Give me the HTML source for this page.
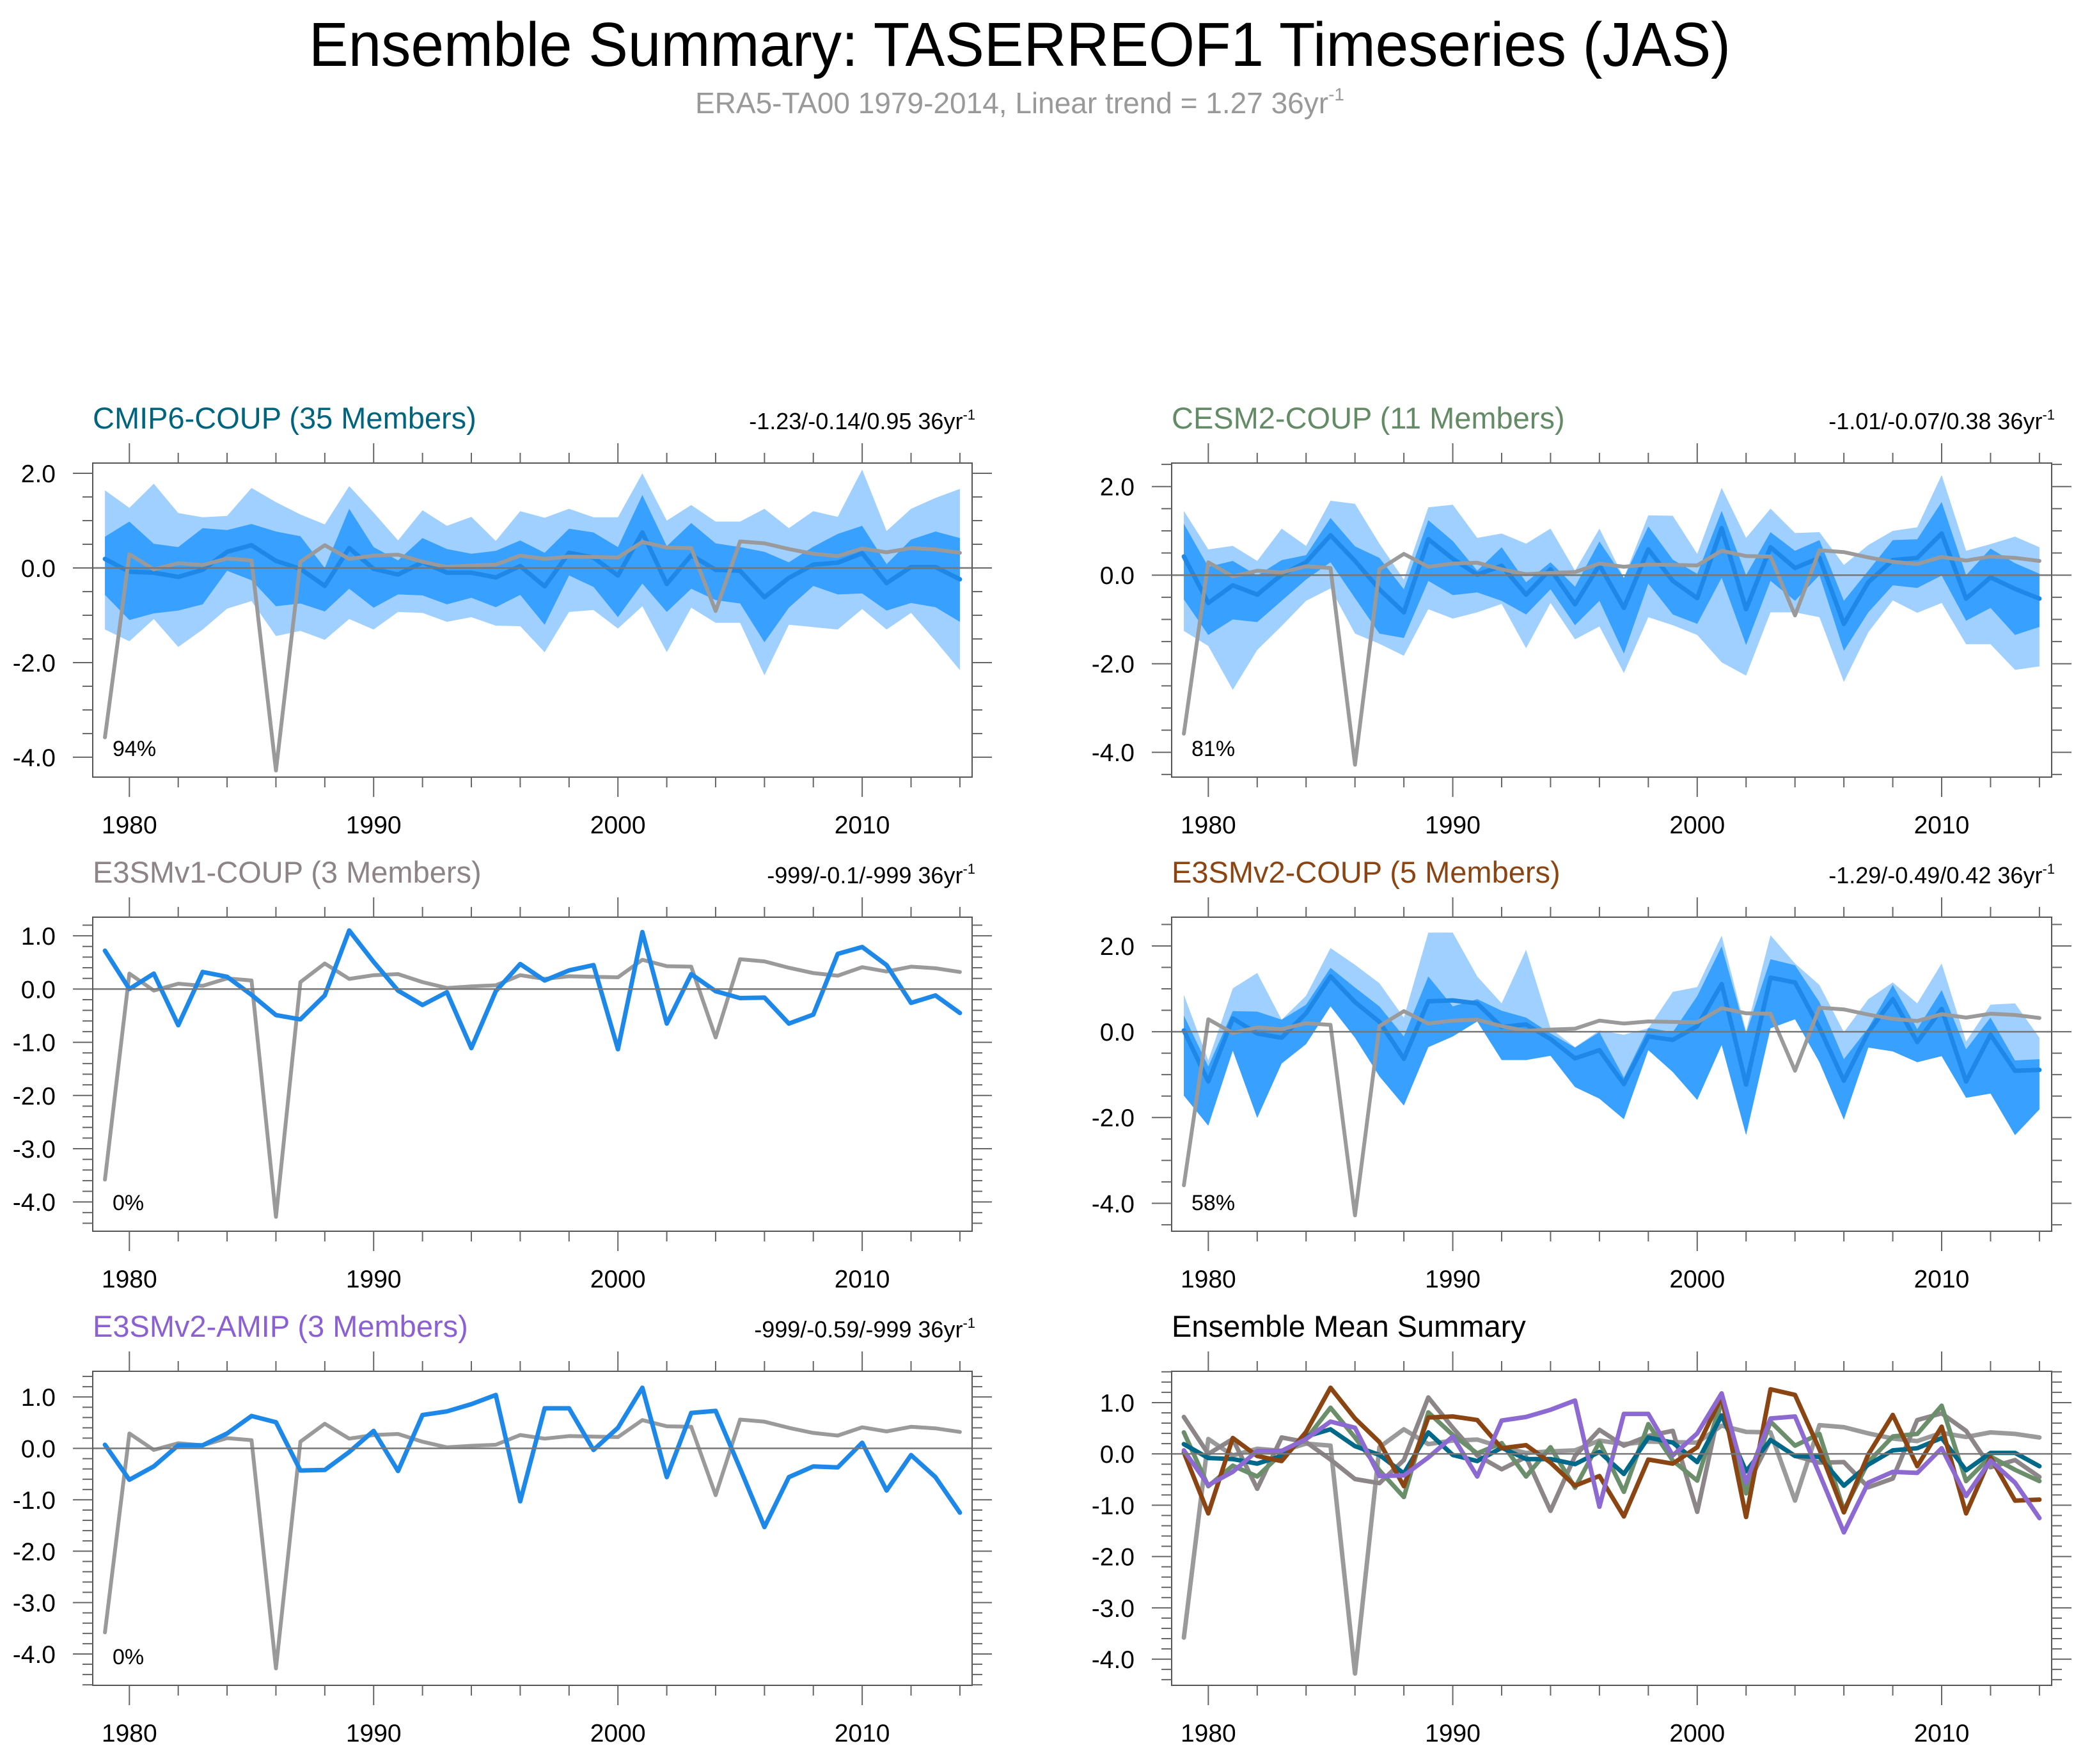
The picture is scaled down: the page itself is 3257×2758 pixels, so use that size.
<!DOCTYPE html>
<html><head><meta charset="utf-8">
<style>
html,body{margin:0;padding:0;background:#fff;}
svg{display:block;font-family:"Liberation Sans",Arial,sans-serif;}
</style></head>
<body>
<svg id="chart" xmlns="http://www.w3.org/2000/svg" width="3257" height="2758" viewBox="0 0 3257 2758">
<rect x="0" y="0" width="3257" height="2758" fill="#fff"/>
<text x="483" y="103" font-size="97" textLength="2223" lengthAdjust="spacingAndGlyphs" fill="#000">Ensemble Summary: TASERREOF1 Timeseries (JAS)</text>
<text x="1087" y="177" font-size="46" fill="#999">ERA5-TA00 1979-2014, Linear trend = 1.27 36yr<tspan font-size="28" dy="-20">-1</tspan></text>
<g id="panels"></g>
</svg>
<script>
const years = [1979,1980,1981,1982,1983,1984,1985,1986,1987,1988,1989,1990,1991,1992,1993,1994,1995,1996,1997,1998,1999,2000,2001,2002,2003,2004,2005,2006,2007,2008,2009,2010,2011,2012,2013,2014];
const era5 = [-3.58,0.29,-0.03,0.1,0.06,0.2,0.16,-4.28,0.13,0.48,0.19,0.26,0.28,0.13,0.02,0.05,0.07,0.26,0.19,0.24,0.23,0.22,0.55,0.43,0.42,-0.91,0.56,0.52,0.4,0.3,0.25,0.41,0.33,0.42,0.39,0.32];

const cmip6Mean = [0.19,-0.08,-0.1,-0.19,-0.04,0.34,0.48,0.15,-0.02,-0.38,0.42,-0.02,-0.14,0.12,-0.1,-0.1,-0.2,0.04,-0.39,0.32,0.22,-0.16,0.75,-0.34,0.27,-0.04,-0.06,-0.62,-0.21,0.07,0.11,0.31,-0.32,0.02,0.02,-0.24];
const cmip6DarkHi = [0.66,0.98,0.51,0.44,0.84,0.8,0.93,0.77,0.67,0.0,1.25,0.44,0.16,0.63,0.4,0.3,0.36,0.58,0.32,0.83,0.75,0.44,1.54,0.46,0.95,0.52,0.44,0.34,0.12,0.45,0.72,0.89,0.08,0.6,0.77,0.63];
const cmip6DarkLo = [-0.57,-1.1,-0.96,-0.9,-0.77,-0.06,-0.26,-0.81,-0.75,-0.92,-0.44,-0.84,-0.56,-0.58,-0.77,-0.63,-0.83,-0.57,-1.2,-0.16,-0.4,-1.04,-0.33,-0.93,-0.44,-0.68,-0.75,-1.57,-0.84,-0.38,-0.56,-0.54,-0.9,-0.74,-0.83,-1.14];
const cmip6LightHi = [1.64,1.27,1.78,1.16,1.07,1.1,1.69,1.39,1.13,0.92,1.73,1.17,0.58,1.22,0.89,1.08,0.57,1.2,1.06,1.25,1.07,1.07,2.0,1.0,1.33,0.98,0.98,1.25,0.84,1.2,1.08,2.08,0.78,1.25,1.48,1.67];
const cmip6LightLo = [-1.3,-1.55,-1.08,-1.67,-1.3,-0.86,-0.7,-1.44,-1.33,-1.52,-1.08,-1.3,-0.93,-0.95,-1.14,-1.04,-1.22,-1.23,-1.78,-0.93,-0.89,-1.28,-0.81,-1.78,-0.84,-1.16,-1.16,-2.27,-1.2,-1.25,-1.3,-0.87,-1.3,-0.95,-1.54,-2.16];

const cesm2Mean = [0.42,-0.63,-0.23,-0.44,0.01,0.29,0.9,0.32,-0.32,-0.84,0.81,0.37,0.01,0.21,-0.44,0.13,-0.66,0.23,-0.74,0.58,-0.13,-0.52,1.06,-0.77,0.63,0.16,0.39,-1.1,-0.16,0.34,0.39,0.94,-0.53,-0.05,-0.31,-0.53];
const cesm2DarkHi = [1.16,0.19,0.32,-0.01,0.34,0.45,1.29,0.65,0.39,-0.32,1.24,0.77,0.1,0.63,-0.16,0.29,-0.26,0.76,-0.06,1.1,0.35,0.03,1.45,0.0,0.97,0.55,0.79,-0.58,0.1,0.79,0.81,1.65,0.0,0.6,0.27,0.03];
const cesm2DarkLo = [-0.55,-1.35,-1.0,-1.06,-0.58,-0.1,0.29,-0.52,-1.32,-1.42,-0.13,-0.45,-0.39,-0.58,-0.89,-0.32,-1.13,-0.58,-1.77,-0.19,-0.89,-1.1,-0.06,-1.58,-0.13,-0.58,0.0,-1.71,-0.84,-0.23,-0.29,-0.01,-1.03,-0.74,-1.35,-1.17];
const cesm2LightHi = [1.45,0.58,0.66,0.32,1.05,0.66,1.68,1.61,0.71,-0.1,1.53,1.59,0.84,0.94,0.71,1.05,0.1,1.05,-0.06,1.35,1.34,0.48,1.97,0.84,1.5,0.95,0.97,0.23,0.68,1.0,1.08,2.26,0.55,0.7,0.87,0.63];
const cesm2LightLo = [-1.26,-1.6,-2.59,-1.69,-1.15,-0.58,-0.3,-1.32,-1.55,-1.82,-0.77,-0.98,-0.84,-0.65,-1.65,-0.63,-1.45,-1.16,-2.21,-0.95,-1.13,-1.35,-1.97,-2.27,-0.84,-0.84,-0.95,-2.41,-1.29,-0.57,-0.85,-0.63,-1.56,-1.56,-2.14,-2.06];

const e3v1Mean = [0.72,0.0,0.29,-0.68,0.32,0.23,-0.11,-0.49,-0.57,-0.12,1.1,0.51,-0.03,-0.3,-0.06,-1.11,-0.04,0.47,0.16,0.35,0.45,-1.13,1.07,-0.65,0.28,-0.04,-0.17,-0.16,-0.65,-0.48,0.66,0.79,0.45,-0.26,-0.12,-0.45];

const e3v2Mean = [0.03,-1.16,0.31,-0.04,-0.14,0.43,1.29,0.69,0.23,-0.63,0.71,0.73,0.66,0.11,0.17,-0.17,-0.62,-0.43,-1.22,-0.11,-0.19,0.13,1.11,-1.23,1.26,1.15,0.09,-1.14,-0.01,0.76,-0.24,0.53,-1.16,-0.07,-0.91,-0.89];
const e3v2DarkHi = [0.38,-0.81,0.48,0.47,0.28,0.63,1.49,1.03,0.59,-0.11,1.29,0.59,0.76,0.49,0.33,-0.04,-0.37,-0.01,-1.07,0.09,-0.01,0.83,1.99,-0.04,1.69,1.55,0.69,-0.64,0.09,1.09,0.06,0.97,-0.41,0.33,-0.67,-0.64];
const e3v2DarkLo = [-1.49,-2.19,-0.44,-2.01,-0.74,-0.29,0.59,-0.14,-1.04,-1.72,-0.36,-0.11,0.24,-0.66,-0.66,-0.56,-1.29,-1.56,-2.04,-0.43,-0.94,-1.59,-0.31,-2.41,0.08,0.29,-0.71,-2.05,-0.37,-0.46,-0.71,-0.57,-1.54,-1.44,-2.41,-1.81];
const e3v2LightHi = [0.86,-0.67,1.01,1.37,0.28,0.84,1.95,1.56,1.13,0.33,2.31,2.31,1.29,0.66,1.91,0.08,-0.36,0.03,-0.07,0.08,0.93,1.04,2.24,0.01,2.25,1.59,1.09,-0.01,0.76,1.15,0.66,1.59,-0.23,0.63,0.66,-0.14];
const e3v2LightLo = [-1.49,-2.19,-0.44,-2.01,-0.74,-0.29,0.59,-0.14,-1.04,-1.72,-0.36,-0.11,0.24,-0.66,-0.66,-0.56,-1.29,-1.56,-2.04,-0.43,-0.94,-1.59,-0.31,-2.41,0.08,0.29,-0.71,-2.05,-0.37,-0.46,-0.71,-0.57,-1.54,-1.44,-2.41,-1.81];

const amipMean = [0.07,-0.61,-0.35,0.06,0.06,0.29,0.63,0.51,-0.43,-0.42,-0.07,0.34,-0.44,0.65,0.72,0.86,1.04,-1.03,0.78,0.78,-0.03,0.4,1.18,-0.56,0.69,0.73,-0.39,-1.53,-0.56,-0.35,-0.37,0.11,-0.82,-0.13,-0.56,-1.25];

const xTickLabels = ["1980","1990","2000","2010"];
const xTickYears = [1980,1990,2000,2010];

const NS = "http://www.w3.org/2000/svg";
const root = document.getElementById('panels');
function mk(tag, attrs, parent) {
  const e = document.createElementNS(NS, tag);
  for (const k in attrs) e.setAttribute(k, attrs[k]);
  (parent || root).appendChild(e);
  return e;
}
const BLUE_LINE = "#1e88e8", DARK = "#38a0ff", LIGHT = "#a0d0ff", GRAY = "#9a9a9a";

function panel(cfg) {
  const g = mk('g', {});
  
  
  const L = cfg.x, T = cfg.y, W = cfg.w, H = 491;
  const xs = yr => L + (yr - 1978.5) / 36 * W;
  const ys = v => T + (cfg.ymax - v) / (cfg.ymax - cfg.ymin) * H;
  const clipId = 'clip-' + cfg.name;
  const cp = mk('clipPath', {id: clipId}, g);
  mk('rect', {x: L, y: T, width: W, height: H}, cp);
  const plot = mk('g', {'clip-path': 'url(#' + clipId + ')'}, g);

  function band(hi, lo, color, nm) {
    let d = '';
    hi.forEach((v, i) => { d += (i ? 'L' : 'M') + xs(years[i]).toFixed(1) + ',' + ys(v).toFixed(1); });
    for (let i = lo.length - 1; i >= 0; i--) d += 'L' + xs(years[i]).toFixed(1) + ',' + ys(lo[i]).toFixed(1);
    const p = mk('path', {d: d + 'Z', fill: color, stroke: 'none'}, plot);
    
    
  }
  function line(vals, color, wdt, nm) {
    const pts = vals.map((v, i) => xs(years[i]).toFixed(1) + ',' + ys(v).toFixed(1)).join(' ');
    const p = mk('polyline', {points: pts, fill: 'none', stroke: color, 'stroke-width': wdt, 'stroke-linejoin': 'round', 'stroke-linecap': 'round'}, plot);
    
    
  }
  if (cfg.lightHi) band(cfg.lightHi, cfg.lightLo, LIGHT, 'spread-band-light');
  if (cfg.darkHi) band(cfg.darkHi, cfg.darkLo, DARK, 'spread-band-dark');
  const z = mk('line', {x1: L, x2: L + W, y1: ys(0), y2: ys(0), stroke: '#777', 'stroke-width': 2.5}, g);
  
  
  if (cfg.lines) {
    cfg.lines.forEach(s => line(s.vals, s.color, 7, s.nm));
  } else {
    if (cfg.blueOnTop) { line(era5, GRAY, 6, 'era5-line'); line(cfg.mean, BLUE_LINE, 7, 'ensemble-mean-line'); }
    else { line(cfg.mean, BLUE_LINE, 7, 'ensemble-mean-line'); line(era5, GRAY, 6, 'era5-line'); }
  }
  const fr = mk('rect', {x: L, y: T, width: W, height: H, fill: 'none', stroke: '#555', 'stroke-width': 2}, g);
  
  
  for (let yr = 1980; yr <= 2014; yr += 2) {
    const major = yr % 10 === 0, len = major ? 31 : 16, x = xs(yr);
    mk('line', {x1: x, x2: x, y1: T, y2: T - len, stroke: '#666', 'stroke-width': 2}, g);
    mk('line', {x1: x, x2: x, y1: T + H, y2: T + H + len, stroke: '#666', 'stroke-width': 2}, g);
  }
  xTickYears.forEach((yr, i) => {
    const t = mk('text', {x: xs(yr), y: T + H + 88, 'font-size': 39, 'text-anchor': 'middle', fill: '#000'}, g);
    t.textContent = xTickLabels[i];
    
    
  });
  const nMin = Math.ceil(cfg.ymin / cfg.minor - 1e-6), nMax = Math.floor(cfg.ymax / cfg.minor + 1e-6);
  for (let n = nMin; n <= nMax; n++) {
    const v = n * cfg.minor, y = ys(v);
    const major = Math.abs(v / cfg.major - Math.round(v / cfg.major)) < 1e-6;
    const len = major ? 31 : 16;
    mk('line', {x1: L, x2: L - len, y1: y, y2: y, stroke: '#666', 'stroke-width': 2}, g);
    mk('line', {x1: L + W, x2: L + W + len, y1: y, y2: y, stroke: '#666', 'stroke-width': 2}, g);
    if (major) {
      const t = mk('text', {x: L - 58, y: y + 14, 'font-size': 39, 'text-anchor': 'end', fill: '#000'}, g);
      t.textContent = v.toFixed(1);
      
      
    }
  }
  const tt = mk('text', {x: L, y: T - 54, 'font-size': 47, fill: cfg.titleColor}, g);
  tt.textContent = cfg.title;
  
  
  if (cfg.right) {
    const rt = mk('text', {x: L + W + 5, y: T - 53, 'font-size': 36, 'text-anchor': 'end', fill: '#000'}, g);
    rt.innerHTML = cfg.right + '<tspan font-size="22" dy="-15">-1</tspan>';
    
    
  }
  if (cfg.pct) {
    const pt = mk('text', {x: L + 31, y: T + H - 33, 'font-size': 34, fill: '#000'}, g);
    pt.textContent = cfg.pct;
    
    
  }
}

panel({name: 'cmip6-coup', x: 145, y: 724, w: 1375, ymin: -4.42, ymax: 2.216, major: 2, minor: 0.5,
  title: 'CMIP6-COUP (35 Members)', titleColor: '#00647f', right: '-1.23/-0.14/0.95 36yr', pct: '94%',
  mean: cmip6Mean, darkHi: cmip6DarkHi, darkLo: cmip6DarkLo, lightHi: cmip6LightHi, lightLo: cmip6LightLo});
panel({name: 'cesm2-coup', x: 1832, y: 724, w: 1376, ymin: -4.56, ymax: 2.53, major: 2, minor: 0.5,
  title: 'CESM2-COUP (11 Members)', titleColor: '#638b65', right: '-1.01/-0.07/0.38 36yr', pct: '81%',
  mean: cesm2Mean, darkHi: cesm2DarkHi, darkLo: cesm2DarkLo, lightHi: cesm2LightHi, lightLo: cesm2LightLo});
panel({name: 'e3smv1-coup', x: 145, y: 1434, w: 1375, ymin: -4.55, ymax: 1.35, major: 1, minor: 0.2,
  title: 'E3SMv1-COUP (3 Members)', titleColor: '#8c8486', right: '-999/-0.1/-999 36yr', pct: '0%',
  mean: e3v1Mean, blueOnTop: true});
panel({name: 'e3smv2-coup', x: 1832, y: 1434, w: 1376, ymin: -4.65, ymax: 2.67, major: 2, minor: 0.5,
  title: 'E3SMv2-COUP (5 Members)', titleColor: '#8b4513', right: '-1.29/-0.49/0.42 36yr', pct: '58%',
  mean: e3v2Mean, darkHi: e3v2DarkHi, darkLo: e3v2DarkLo, lightHi: e3v2LightHi, lightLo: e3v2LightLo});
panel({name: 'e3smv2-amip', x: 145, y: 2144, w: 1375, ymin: -4.61, ymax: 1.5, major: 1, minor: 0.2,
  title: 'E3SMv2-AMIP (3 Members)', titleColor: '#8a60d2', right: '-999/-0.59/-999 36yr', pct: '0%',
  mean: amipMean, blueOnTop: true});
panel({name: 'ensemble-mean-summary', x: 1832, y: 2144, w: 1376, ymin: -4.51, ymax: 1.61, major: 1, minor: 0.2,
  title: 'Ensemble Mean Summary', titleColor: '#000',
  lines: [
    {vals: era5, color: GRAY, nm: 'era5-line'},
    {vals: e3v1Mean, color: '#8d8688', nm: 'e3smv1-mean-line'},
    {vals: cesm2Mean, color: '#6b8f6b', nm: 'cesm2-mean-line'},
    {vals: cmip6Mean, color: '#00698a', nm: 'cmip6-mean-line'},
    {vals: e3v2Mean, color: '#8b4513', nm: 'e3smv2-coup-mean-line'},
    {vals: amipMean, color: '#8c6ad2', nm: 'e3smv2-amip-mean-line'}
  ]});
</script>
</body></html>
